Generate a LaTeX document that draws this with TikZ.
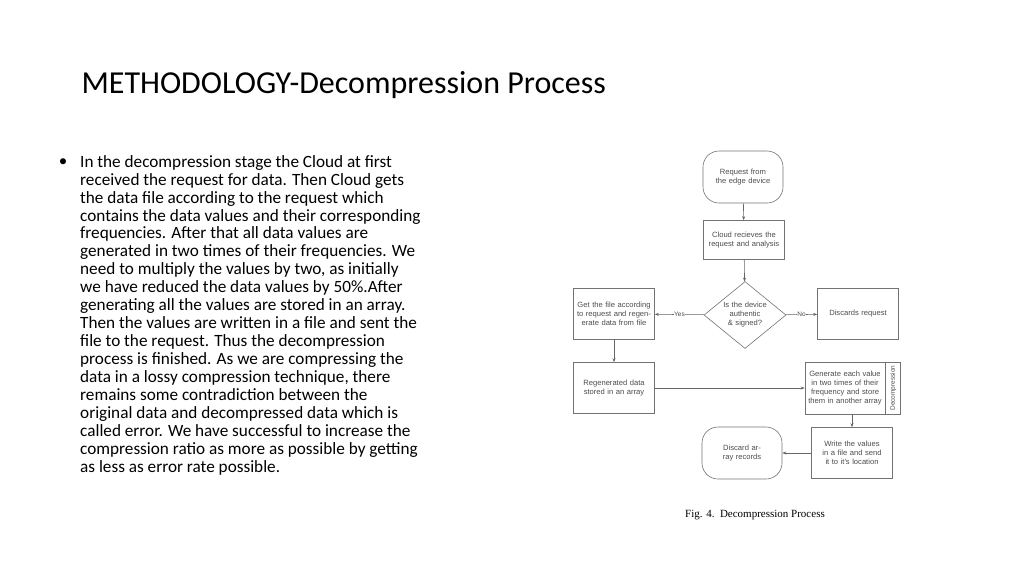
\documentclass[tikz,border=0pt]{standalone}
\usepackage{fontspec}
\setmainfont{Carlito}
\newfontfamily\fl{Liberation Sans}
\newfontfamily\capfont{Liberation Serif}
\usetikzlibrary{shapes.geometric,arrows.meta}
\begin{document}
\begin{tikzpicture}[x=1pt,y=-1pt,
  fc/.style={draw=black!55,line width=0.6pt,font=\fl\fontsize{7.6}{9}\selectfont,text=black!70,align=center,inner sep=1pt},
  bx/.style={fc,minimum width=81pt,minimum height=51pt,text width=78pt},
  rb/.style={fc,rounded corners=16pt,minimum width=80pt,minimum height=52pt,text width=70pt},
  ar/.style={draw=black!60,line width=0.6pt,-{Stealth[length=4pt,width=3pt]}},
  lb/.style={font=\fl\fontsize{6.5}{7}\selectfont,text=black!70,fill=white,inner sep=0.5pt}]
\useasboundingbox (0,0) rectangle (1024,576);
\node[anchor=west,font=\fontsize{32}{36}\selectfont] (title) at (78,85) {METHODOLOGY-Decompression Process};
\node[anchor=north west,font=\fontsize{17.2}{17.95}\selectfont,align=left,inner sep=0] (body) at (80,155) {In the decompression stage the Cloud at first\\
received the request for data. Then Cloud gets\\
the data file according to the request which\\
contains the data values and their corresponding\\
frequencies. After that all data values are\\
generated in two times of their frequencies. We\\
need to multiply the values by two, as initially\\
we have reduced the data values by 50\%.After\\
generating all the values are stored in an array.\\
Then the values are written in a file and sent the\\
file to the request. Thus the decompression\\
process is finished. As we are compressing the\\
data in a lossy compression technique, there\\
remains some contradiction between the\\
original data and decompressed data which is\\
called error. We have successful to increase the\\
compression ratio as more as possible by getting\\
as less as error rate possible.};
\node[font=\fontsize{17}{18}\selectfont] (bul) at (63,163) {•};
\node[rb] (s) at (743,177) {Request from the edge device};
\node[bx,minimum height=39pt] (c) at (744,240) {Cloud recieves the request and analysis};
\node[fc,diamond,aspect=1.22,minimum width=82pt,minimum height=67pt,inner sep=0pt,text width=50pt] (d) at (745,315) {Is the device authentic \& signed?};
\node[bx] (g) at (614,314) {Get the file according to request and regenerate data from file};
\node[bx] (x) at (858,314) {Discards request};
\node[bx] (r) at (614,388) {Regenerated data stored in an array};
\node[bx,minimum width=80pt,minimum height=52pt] (ge) at (845,388) {Generate each value in two times of their frequency and store them in another array};
\node[fc,minimum width=15pt,minimum height=52pt,anchor=west,inner sep=0pt] (tab) at (ge.east) {};
\node[font=\fl\fontsize{6.5}{7}\selectfont,text=black!70,rotate=90] (tabt) at (tab.center) {Decompression};
\node[bx] (w) at (852,453) {Write the values in a file and send it to it's location};
\node[rb] (e) at (742,453) {Discard array records};
\draw[ar] (s) -- (c);
\draw[ar] (c) -- (d);
\draw[ar] (d) -- node[lb]{Yes} (g);
\draw[ar] (d) -- node[lb]{No} (x);
\draw[ar] (g) -- (r);
\draw[ar] (r) -- (ge);
\draw[ar] (ge.south -| w.north) -- (w);
\draw[ar] (w) -- (e);
\node[font=\capfont\fontsize{11}{13}\selectfont] (cp) at (755,515) {Fig. 4.\ \ Decompression Process};
\end{tikzpicture}
\end{document}
